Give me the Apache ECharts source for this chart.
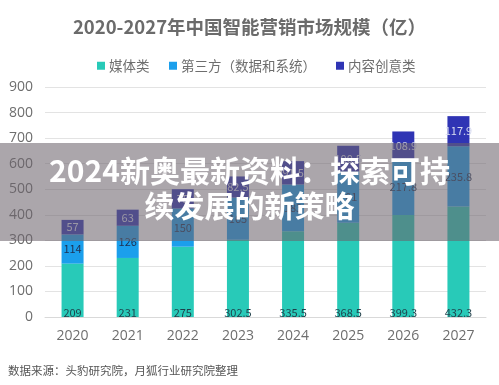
<!DOCTYPE html>
<html><head><meta charset="utf-8">
<script src="https://cdn.jsdelivr.net/npm/echarts@6/dist/echarts.min.js"></script>
<style>html,body{margin:0;padding:0;background:#fff}#c{width:499px;height:385px}</style>
</head><body><div id="c"></div>
<script>
var years = ['2020','2021','2022','2023','2024','2025','2026','2027'];
var media = [209, 231, 275, 302.5, 335.5, 368.5, 399.3, 432.3];
var thirdParty = [114, 126, 150, 165, 183, 201, 217.8, 235.8];
var creative = [57, 63, 75, 82.5, 91.5, 100.5, 108.9, 117.9];
var seriesNames = ['媒体类', '第三方（数据和系统）', '内容创意类'];
var yTicks = [0, 100, 200, 300, 400, 500, 600, 700, 800, 900];

var font = '"Noto Sans CJK SC", "Noto Sans", sans-serif';
var legendLefts = [92, 164, 331];
var legends = seriesNames.map(function (n, i) {
  return {
    top: 54, left: legendLefts[i],
    itemWidth: 8, itemHeight: 8, itemGap: 0,
    icon: 'rect',
    textStyle: {fontSize: 13.5, color: '#6e6e6e', fontFamily: font, padding: [0, 0, 0, -1]},
    data: [n]
  };
});
var chart = echarts.init(document.getElementById('c'));
chart.setOption({
  animation: false,
  title: {
    text: '2020-2027年中国智能营销市场规模（亿）',
    left: 'center', top: 13,
    textStyle: {fontSize: 18.5, fontWeight: 'bold', color: '#6b6b6b', fontFamily: font}
  },
  legend: legends,
  grid: {left: 45, right: 13, top: 87, bottom: 68},
  xAxis: {
    type: 'category', data: years,
    axisLine: {lineStyle: {color: '#d9d9d9'}},
    axisTick: {show: false},
    axisLabel: {fontSize: 14, color: '#6e6e6e', margin: 12, fontFamily: '"Open Sans", sans-serif'}
  },
  yAxis: {
    type: 'value', min: yTicks[0], max: yTicks[yTicks.length-1], interval: 100,
    axisLine: {show: false}, axisTick: {show: false},
    splitLine: {lineStyle: {color: '#e3e3e3'}},
    axisLabel: {fontSize: 14, color: '#6e6e6e', margin: 12, fontFamily: '"Open Sans", sans-serif'}
  },
  series: [
    {name: seriesNames[0], type: 'bar', stack: 's', data: media, barWidth: 22,
     itemStyle: {color: '#28cab8'},
     label: {show: true, position: 'insideBottom', distance: 0, offset: [0, 1], fontSize: 11, color: '#1f3f4a', fontFamily: font}},
    {name: seriesNames[1], type: 'bar', stack: 's', data: thirdParty, barWidth: 22,
     itemStyle: {color: '#1b9fec'},
     label: {show: true, position: 'inside', fontSize: 11, color: '#1f3050', fontFamily: font}},
    {name: seriesNames[2], type: 'bar', stack: 's', data: creative, barWidth: 22,
     itemStyle: {color: '#2f34b4'},
     label: {show: true, position: 'inside', fontSize: 11, color: '#d8dcf0', fontFamily: font}}
  ],
  graphic: [
    {type: 'text', left: 8, top: 365,
     style: {text: '数据来源：头豹研究院，月狐行业研究院整理', fontSize: 11.5, fill: '#555', fontFamily: font}},
    {type: 'rect', left: 0, top: 143, z: 100,
     shape: {width: 499, height: 98},
     style: {fill: 'rgba(108,98,108,0.57)'}},
    {type: 'text', left: 'center', top: 156, z: 101,
     style: {text: '2024新奥最新资料：探索可持', fontSize: 30,
             fontWeight: 'bold', fill: '#ffffff', fontFamily: font}},
    {type: 'text', left: 'center', top: 191, z: 101,
     style: {text: '续发展的新策略', fontSize: 30,
             fontWeight: 'bold', fill: '#ffffff', fontFamily: font}}
  ]
});
</script></body></html>
